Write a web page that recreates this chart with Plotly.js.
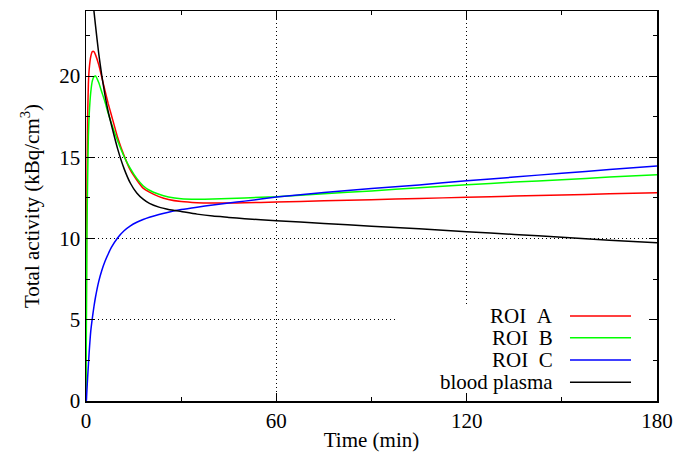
<!DOCTYPE html>
<html>
<head>
<meta charset="utf-8">
<script src="https://cdn.plot.ly/plotly-3.0.1.min.js"></script>
<style>html,body{margin:0;padding:0;background:#fff;}#chart{width:678px;height:452px;}</style>
</head>
<body>
<div id="chart"></div>
<script>
// Time points (min)
const time = [0, 0.1, 0.2, 0.3, 0.5, 0.75, 1, 1.5, 2, 2.5, 3, 4, 5, 6, 7, 8, 10, 12, 14, 16, 18, 20, 23, 26, 30, 35, 40, 45, 50, 60, 75, 90, 105, 120, 135, 150, 165, 180];
// Total activity (kBq/cm^3)
const roiA = [0, 6, 10.5, 13.5, 17.3, 19.5, 20.4, 21.2, 21.5, 21.5, 21.3, 20.7, 19.9, 19.1, 18.3, 17.6, 16.2, 15.1, 14.2, 13.6, 13.1, 12.85, 12.58, 12.4, 12.27, 12.2, 12.18, 12.18, 12.2, 12.24, 12.32, 12.39, 12.46, 12.54, 12.61, 12.68, 12.75, 12.82];
const roiB = [0, 4, 7.5, 10.5, 13.5, 16.3, 17.6, 19.0, 19.7, 19.95, 20.0, 19.6, 19.0, 18.4, 17.7, 17.1, 16.0, 15.05, 14.3, 13.7, 13.25, 12.97, 12.72, 12.56, 12.45, 12.42, 12.43, 12.46, 12.5, 12.57, 12.75, 12.93, 13.12, 13.31, 13.47, 13.62, 13.78, 13.93];
const roiC = [0, 0, 0.3, 0.7, 1.4, 2.2, 3.0, 4.3, 5.1, 5.8, 6.4, 7.35, 8.05, 8.6, 9.05, 9.45, 10.05, 10.48, 10.78, 11.0, 11.17, 11.31, 11.48, 11.62, 11.78, 11.93, 12.06, 12.18, 12.3, 12.55, 12.83, 13.07, 13.3, 13.55, 13.78, 14.02, 14.24, 14.46];
const plasma = [40, 38, 36, 34, 31, 29, 27.8, 26, 24.9, 24.0, 23.1, 21.4, 20.0, 18.8, 17.8, 17.0, 15.5, 14.3, 13.4, 12.8, 12.42, 12.16, 11.93, 11.79, 11.66, 11.5, 11.38, 11.3, 11.22, 11.1, 10.93, 10.75, 10.6, 10.42, 10.25, 10.08, 9.9, 9.74];

const seriesNames = ["ROI  A", "ROI  B", "ROI  C", "blood plasma"];
const seriesData = [roiA, roiB, roiC, plasma];
const seriesColors = ["#ff0000", "#00ff00", "#0000ff", "#000000"];
const xTicks = [0, 60, 120, 180];
const yTicks = [0, 5, 10, 15, 20];

const FONT = "Times New Roman, Liberation Serif, DejaVu Serif, serif";

const traces = seriesData.map((d, i) => ({
  x: time, y: d, type: "scatter", mode: "lines", name: seriesNames[i],
  line: {color: seriesColors[i], width: 1.5, shape: "spline", smoothing: 0.5}, showlegend: false
}));

// manual gnuplot-style legend: text right-aligned, sample line to the right
const legY = [0.218, 0.162, 0.105, 0.048];
const annotations = seriesNames.map((n, i) => ({
  xref: "paper", yref: "paper", x: 0.8214, y: legY[i], xanchor: "right", yanchor: "middle",
  text: n.replace(/ /g, "&nbsp;"), showarrow: false, font: {family: FONT, size: 21, color: "#000"}
}));
const shapes = [{
  type: "rect", xref: "x", yref: "y", x0: 97.4, x1: 180, y0: 0, y1: 5.9,
  fillcolor: "#ffffff", line: {width: 0}, layer: "between"
}].concat(seriesNames.map((n, i) => ({
  type: "line", xref: "paper", yref: "paper", x0: 0.8476, x1: 0.9545, y0: legY[i], y1: legY[i],
  line: {color: seriesColors[i], width: 1.5}
})));

const axisCommon = {
  showline: true, linecolor: "#000", linewidth: 1.5, mirror: "ticks",
  ticks: "inside", ticklen: 8, tickwidth: 1, tickcolor: "#000",
  showgrid: true, gridcolor: "#000", gridwidth: 1, griddash: "1px,3px",
  zeroline: false, tickfont: {family: FONT, size: 21, color: "#000"}
};

const layout = {
  width: 678, height: 452,
  margin: {l: 86, r: 21, t: 11, b: 51},
  paper_bgcolor: "#fff", plot_bgcolor: "#fff",
  font: {family: FONT, color: "#000"},
  xaxis: Object.assign({}, axisCommon, {
    range: [0, 180], tickmode: "array", tickvals: xTicks, ticktext: xTicks.map(String),
    minor: {dtick: 30, tick0: 0, ticks: "inside", ticklen: 4, tickcolor: "#000", showgrid: false},
    title: {text: "Time (min)", font: {family: FONT, size: 21, color: "#000"}, standoff: 4}
  }),
  yaxis: Object.assign({}, axisCommon, {
    range: [0, 24], tickmode: "array", tickvals: yTicks, ticktext: yTicks.map(String),
    minor: {dtick: 2.5, tick0: 0, ticks: "inside", ticklen: 4, tickcolor: "#000", showgrid: false},
    title: {text: "Total activity (kBq/cm<sup>3</sup>)", font: {family: FONT, size: 21, color: "#000"}, standoff: 14}
  }),
  annotations: annotations,
  shapes: shapes,
  showlegend: false
};

Plotly.newPlot("chart", traces, layout, {displayModeBar: false, staticPlot: true});
</script>
</body>
</html>
